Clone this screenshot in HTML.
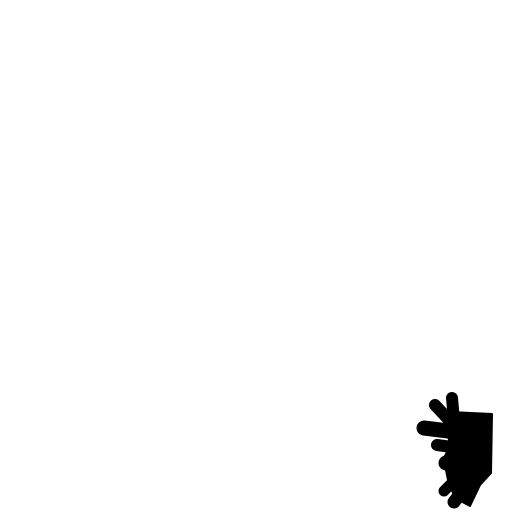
<!DOCTYPE html>
<html><head><meta charset="utf-8"><style>html,body{margin:0;padding:0;background:#fff;width:512px;height:512px;overflow:hidden}</style></head>
<body>
<svg width="512" height="512">
<g fill="#000" stroke="#000" stroke-linecap="round" stroke-linejoin="round">
<path stroke-width="2" d="M450,412 L492,414 L491,473 L480,485 L470,506 L455,498 L448,480 L446,470 L442,462 L447,452 L450,445 L446,425 Z"/>
<line x1="452" y1="398" x2="454" y2="420" stroke-width="12"/>
<line x1="435" y1="405" x2="449" y2="420" stroke-width="12"/>
<line x1="424" y1="428" x2="448" y2="431" stroke-width="15"/>
<line x1="437" y1="445" x2="452" y2="447" stroke-width="12"/>
<circle cx="446" cy="463" r="7"/>
<line x1="444" y1="491" x2="460" y2="475" stroke-width="11"/>
<line x1="454" y1="502" x2="468" y2="484" stroke-width="13"/>
</g>
</svg>
</body></html>
